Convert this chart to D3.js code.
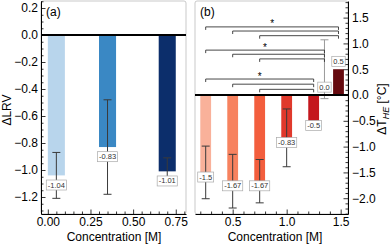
<!DOCTYPE html>
<html>
<head>
<meta charset="utf-8">
<script src="https://cdn.jsdelivr.net/npm/d3@7"></script>
<style>
  body { margin: 0; background: #fff; }
  svg { display: block; font-family: 'Liberation Sans', Arial, sans-serif; }
</style>
</head>
<body>
<script>
// panel (a): change in LRV
var concA = [0.05, 0.35, 0.70];
var lrv = [-1.04, -0.83, -1.01];
var lrvErr = [0.17, 0.35, 0.10];
var colorsA = ["#b8d5ec", "#3a88c4", "#0c2e6b"];

// panel (b): change in T_HE
var concB = [0.25, 0.50, 0.75, 1.00, 1.25, 1.35, 1.48];
var dThe = [-1.5, -1.67, -1.67, -0.83, -0.5, 0.0, 0.5];
var dTheErr = [0.51, 0.52, 0.42, 0.56, 0.0, 0.57, 0.52];
var colorsB = ["#f9b19a", "#f7825f", "#f35e3d", "#e0392c", "#c4171d", "#a50f15", "#660a0f"];

// significance brackets: bars 0,1,2 compared against a target bar
var sigFrom = [0, 1, 2];
var sigTargets = [6, 5, 4];
var sigHeights = [[1.32, 1.24, 1.15], [0.87, 0.79, 0.70], [0.31, 0.21, 0.11]];

var ticksAx = [0, 0.25, 0.5, 0.75];
var ticksAy = [-1.2, -1.0, -0.8, -0.6, -0.4, -0.2, 0.0, 0.2];
var ticksBx = [0.5, 1.0, 1.5];
var ticksBy = [-2.0, -1.5, -1.0, -0.5, 0.0, 0.5, 1.0, 1.5];

var svg = d3.select("body").append("svg")
	.attr("width", 390)
	.attr("height", 246);

var fmtMinus = function(f) {
	return function(d) { return d3.format(f)(d).replace("-", "\u2212"); };
};

//minor tick values between two limits, skipping the majors
var minors = function(lo, hi, step, majors) {
	return d3.range(Math.round(lo / step), Math.round(hi / step) + 1)
		.map(function(i) { return +(i * step).toFixed(3); })
		.filter(function(v) { return !majors.some(function(m) { return Math.abs(m - v) < 1e-6; }); });
};

var drawPanel = function(o) {
	var x = o.x, y = o.y;
	var g = svg.append("g");
	var x0 = x.range()[0], x1 = x.range()[1], y0 = y.range()[1], y1 = y.range()[0];

	//frame
	g.append("rect")
		.attr("x", x0).attr("y", y0)
		.attr("width", x1 - x0).attr("height", y1 - y0)
		.attr("rx", 2)
		.attr("fill", "none")
		.attr("stroke", "#bbb")
		.attr("stroke-width", 0.8);

	//bars
	var bw = x(0.1) - x(0);
	g.selectAll(".bar")
		.data(o.vals)
		.enter().append("rect")
		.attr("x", function(d, i) { return x(o.conc[i]) - bw / 2; })
		.attr("y", function(d) { return y(Math.max(0, d)); })
		.attr("width", bw)
		.attr("height", function(d) { return Math.abs(y(d) - y(0)); })
		.attr("fill", function(d, i) { return o.colors[i]; });

	//error bars
	var eb = g.selectAll(".err")
		.data(o.vals)
		.enter().append("g")
		.filter(function(d, i) { return o.err[i] > 0; })
		.attr("stroke", function(d) { return d >= 0 ? "#999" : "#3a3a3a"; })
		.attr("stroke-width", 1);
	eb.append("line")
		.attr("x1", function(d, i) { return x(o.conc[i]); })
		.attr("x2", function(d, i) { return x(o.conc[i]); })
		.attr("y1", function(d, i) { return y(d + o.err[i]); })
		.attr("y2", function(d, i) { return y(d - o.err[i]); });
	[1, -1].forEach(function(s) {
		eb.append("line")
			.attr("x1", function(d, i) { return x(o.conc[i]) - 4; })
			.attr("x2", function(d, i) { return x(o.conc[i]) + 4; })
			.attr("y1", function(d, i) { return y(d + s * o.err[i]); })
			.attr("y2", function(d, i) { return y(d + s * o.err[i]); });
	});

	//zero line
	g.append("line")
		.attr("x1", x0).attr("x2", x1)
		.attr("y1", y(0)).attr("y2", y(0))
		.attr("stroke", "#000")
		.attr("stroke-width", 2);

	//value boxes
	var lab = g.selectAll(".lab")
		.data(o.vals)
		.enter().append("g")
		.attr("transform", function(d, i) {
			return "translate(" + x(o.conc[i]) + "," + (y(d) + (d < 0 ? o.labOff : -8)) + ")";
		});
	lab.append("text")
		.attr("text-anchor", "middle")
		.attr("dy", "0.35em")
		.attr("font-size", 7.5)
		.attr("fill", "#333")
		.text(function(d) { return d === 0 ? "0.0" : String(d); });
	lab.insert("rect", "text")
		.each(function() {
			var b = this.parentNode.querySelector("text").getBBox();
			d3.select(this)
				.attr("x", b.x - 1.5).attr("y", b.y - 0.5)
				.attr("width", b.width + 3).attr("height", b.height + 1);
		})
		.attr("fill", "#fff")
		.attr("stroke", "#aaa")
		.attr("stroke-width", 0.7);

	//axes
	var xg = g.append("g")
		.attr("transform", "translate(0," + y1 + ")")
		.call(d3.axisBottom(x).tickValues(o.xt).tickFormat(d3.format(o.xf))
			.tickSizeInner(-4.5).tickSizeOuter(0).tickPadding(3.5));
	xg.append("g").call(d3.axisBottom(x).tickValues(o.xm).tickFormat("")
		.tickSizeInner(-2.5).tickSizeOuter(0))
		.select(".domain").remove();

	var yAxis = o.right ? d3.axisRight : d3.axisLeft;
	var yg = g.append("g")
		.attr("transform", "translate(" + (o.right ? x1 : x0) + ",0)")
		.call(yAxis(y).tickValues(o.yt).tickFormat(fmtMinus(".1f"))
			.tickSizeInner(-4.5).tickSizeOuter(0).tickPadding(o.right ? 4 : 3));
	yg.append("g").call(yAxis(y).tickValues(o.ym).tickFormat("")
		.tickSizeInner(-2.5).tickSizeOuter(0))
		.select(".domain").remove();

	g.selectAll(".tick text").attr("font-size", 12).attr("fill", "#000")
		.attr("font-family", "'Liberation Sans', Arial, sans-serif");
	g.selectAll(".tick line").attr("stroke-width", 0.8);

	//panel letter
	g.append("text")
		.attr("x", x0 + 5).attr("y", 16)
		.attr("font-size", 12)
		.text(o.letter);

	//x label
	g.append("text")
		.attr("x", o.xlabX).attr("y", 241)
		.attr("text-anchor", "middle")
		.attr("font-size", 12)
		.text("Concentration [M]");

	return g;
};

drawPanel({
	x: d3.scaleLinear().domain([-0.04, 0.81]).range([41, 186]),
	y: d3.scaleLinear().domain([-1.326, 0.252]).range([214, 1]),
	conc: concA, vals: lrv, err: lrvErr, colors: colorsA,
	labOff: 9.5,
	xt: ticksAx, xm: minors(0, 0.8, 0.05, ticksAx), xf: ".2f",
	yt: ticksAy, ym: minors(-1.3, 0.25, 0.05, ticksAy),
	right: false, letter: "(a)", xlabX: 114
});

var yB = d3.scaleLinear().domain([-2.306, 1.822]).range([214, 1]);
var xB = d3.scaleLinear().domain([0.151, 1.568]).range([195, 348]);
var gB = drawPanel({
	x: xB, y: yB,
	conc: concB, vals: dThe, err: dTheErr, colors: colorsB,
	labOff: 4.5,
	xt: ticksBx, xm: minors(0.2, 1.5, 0.1, ticksBx), xf: ".1f",
	yt: ticksBy, ym: minors(-2.3, 1.8, 0.1, ticksBy),
	right: true, letter: "(b)", xlabX: 275
});

//significance brackets
sigTargets.forEach(function(t, k) {
	sigFrom.forEach(function(f, j) {
		var yy = yB(sigHeights[k][j]);
		var xa = xB(concB[f]), xb = xB(concB[t]);
		gB.append("path")
			.attr("d", "M" + xa + "," + (yy + 3) + "V" + yy + "H" + xb + "V" + (yy + 3))
			.attr("fill", "none")
			.attr("stroke", "#333")
			.attr("stroke-width", 0.9);
	});
	gB.append("text")
		.attr("x", (xB(concB[sigFrom[0]]) + xB(concB[t])) / 2)
		.attr("y", yB(sigHeights[k][0]) + 0.5)
		.attr("text-anchor", "middle")
		.attr("font-size", 10)
		.text("*");
});

//y labels
svg.append("text")
	.attr("transform", "translate(11,110) rotate(-90)")
	.attr("text-anchor", "middle")
	.attr("font-size", 12)
	.text("\u0394LRV");

var yl = svg.append("text")
	.attr("transform", "translate(386,109) rotate(-90)")
	.attr("text-anchor", "middle")
	.attr("font-size", 12);
yl.append("tspan").text("\u0394T");
yl.append("tspan").attr("font-size", 9).attr("font-style", "italic").attr("dy", 2.5).text("HE");
yl.append("tspan").attr("dy", -2.5).text(" [\u00b0C]");
</script>
</body>
</html>
